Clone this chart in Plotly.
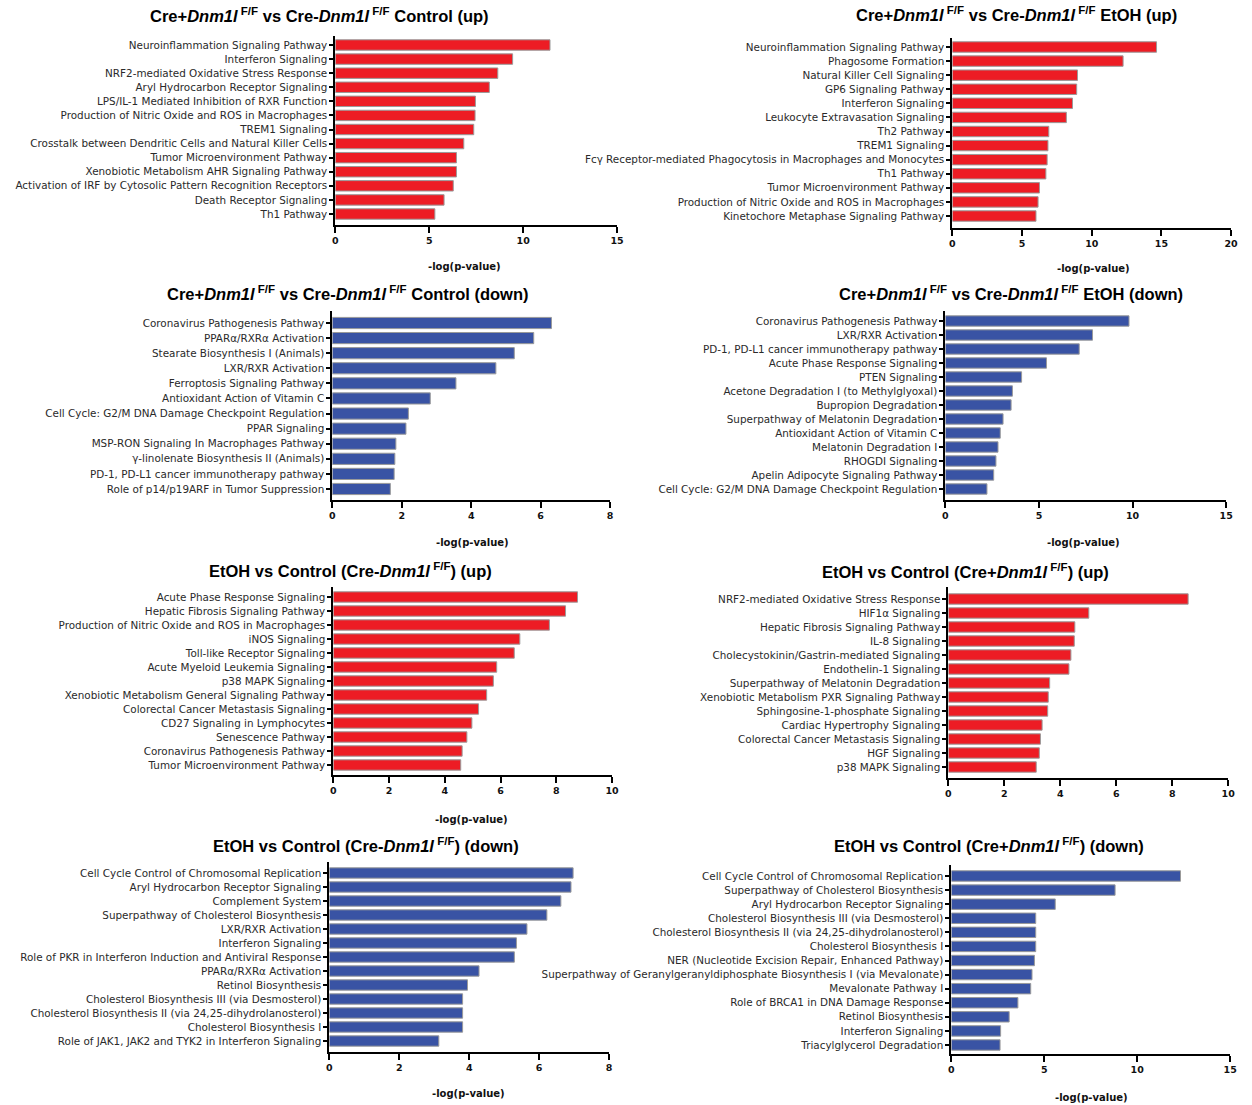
import plotly.graph_objects as go

# ---------------------------------------------------------------- data
p1_pathways = [
    "Neuroinflammation Signaling Pathway", "Interferon Signaling",
    "NRF2-mediated Oxidative Stress Response", "Aryl Hydrocarbon Receptor Signaling",
    "LPS/IL-1 Mediated Inhibition of RXR Function",
    "Production of Nitric Oxide and ROS in Macrophages", "TREM1 Signaling",
    "Crosstalk between Dendritic Cells and Natural Killer Cells",
    "Tumor Microenvironment Pathway", "Xenobiotic Metabolism AHR Signaling Pathway",
    "Activation of IRF by Cytosolic Pattern Recognition Receptors",
    "Death Receptor Signaling", "Th1 Pathway",
]
p1_values = [11.43, 9.44, 8.65, 8.2, 7.46, 7.44, 7.37, 6.84, 6.45, 6.45, 6.28, 5.79, 5.30]

p2_pathways = [
    "Neuroinflammation Signaling Pathway", "Phagosome Formation",
    "Natural Killer Cell Signaling", "GP6 Signaling Pathway", "Interferon Signaling",
    "Leukocyte Extravasation Signaling", "Th2 Pathway", "TREM1 Signaling",
    "Fcγ Receptor-mediated Phagocytosis in Macrophages and Monocytes", "Th1 Pathway",
    "Tumor Microenvironment Pathway", "Production of Nitric Oxide and ROS in Macrophages",
    "Kinetochore Metaphase Signaling Pathway",
]
p2_values = [14.65, 12.25, 8.98, 8.92, 8.62, 8.18, 6.92, 6.86, 6.8, 6.71, 6.25, 6.15, 6.0]

p3_pathways = [
    "Coronavirus Pathogenesis Pathway", "PPARα/RXRα Activation",
    "Stearate Biosynthesis I (Animals)", "LXR/RXR Activation",
    "Ferroptosis Signaling Pathway", "Antioxidant Action of Vitamin C",
    "Cell Cycle: G2/M DNA Damage Checkpoint Regulation", "PPAR Signaling",
    "MSP-RON Signaling In Macrophages Pathway", "γ-linolenate Biosynthesis II (Animals)",
    "PD-1, PD-L1 cancer immunotherapy pathway", "Role of p14/p19ARF in Tumor Suppression",
]
p3_values = [6.31, 5.80, 5.24, 4.71, 3.56, 2.82, 2.19, 2.12, 1.83, 1.80, 1.78, 1.67]

p4_pathways = [
    "Coronavirus Pathogenesis Pathway", "LXR/RXR Activation",
    "PD-1, PD-L1 cancer immunotherapy pathway", "Acute Phase Response Signaling",
    "PTEN Signaling", "Acetone Degradation I (to Methylglyoxal)",
    "Bupropion Degradation", "Superpathway of Melatonin Degradation",
    "Antioxidant Action of Vitamin C", "Melatonin Degradation I", "RHOGDI Signaling",
    "Apelin Adipocyte Signaling Pathway",
    "Cell Cycle: G2/M DNA Damage Checkpoint Regulation",
]
p4_values = [9.81, 7.86, 7.15, 5.40, 4.07, 3.58, 3.51, 3.08, 2.93, 2.81, 2.70, 2.58, 2.22]

p5_pathways = [
    "Acute Phase Response Signaling", "Hepatic Fibrosis Signaling Pathway",
    "Production of Nitric Oxide and ROS in Macrophages", "iNOS Signaling",
    "Toll-like Receptor Signaling", "Acute Myeloid Leukemia Signaling",
    "p38 MAPK Signaling", "Xenobiotic Metabolism General Signaling Pathway",
    "Colorectal Cancer Metastasis Signaling", "CD27 Signaling in Lymphocytes",
    "Senescence Pathway", "Coronavirus Pathogenesis Pathway",
    "Tumor Microenvironment Pathway",
]
p5_values = [8.76, 8.33, 7.75, 6.69, 6.49, 5.86, 5.74, 5.50, 5.21, 4.97, 4.79, 4.62, 4.57]

p6_pathways = [
    "NRF2-mediated Oxidative Stress Response", "HIF1α Signaling",
    "Hepatic Fibrosis Signaling Pathway", "IL-8 Signaling",
    "Cholecystokinin/Gastrin-mediated Signaling", "Endothelin-1 Signaling",
    "Superpathway of Melatonin Degradation", "Xenobiotic Metabolism PXR Signaling Pathway",
    "Sphingosine-1-phosphate Signaling", "Cardiac Hypertrophy Signaling",
    "Colorectal Cancer Metastasis Signaling", "HGF Signaling", "p38 MAPK Signaling",
]
p6_values = [8.57, 5.02, 4.52, 4.50, 4.38, 4.31, 3.62, 3.57, 3.55, 3.35, 3.29, 3.25, 3.14]

p7_pathways = [
    "Cell Cycle Control of Chromosomal Replication", "Aryl Hydrocarbon Receptor Signaling",
    "Complement System", "Superpathway of Cholesterol Biosynthesis",
    "LXR/RXR Activation", "Interferon Signaling",
    "Role of PKR in Interferon Induction and Antiviral Response",
    "PPARα/RXRα Activation", "Retinol Biosynthesis",
    "Cholesterol Biosynthesis III (via Desmosterol)",
    "Cholesterol Biosynthesis II (via 24,25-dihydrolanosterol)",
    "Cholesterol Biosynthesis I",
    "Role of JAK1, JAK2 and TYK2 in Interferon Signaling",
]
p7_values = [6.97, 6.91, 6.62, 6.22, 5.65, 5.35, 5.29, 4.28, 3.95, 3.81, 3.81, 3.81, 3.13]

p8_pathways = [
    "Cell Cycle Control of Chromosomal Replication", "Superpathway of Cholesterol Biosynthesis",
    "Aryl Hydrocarbon Receptor Signaling",
    "Cholesterol Biosynthesis III (via Desmosterol)",
    "Cholesterol Biosynthesis II (via 24,25-dihydrolanosterol)",
    "Cholesterol Biosynthesis I",
    "NER (Nucleotide Excision Repair, Enhanced Pathway)",
    "Superpathway of Geranylgeranyldiphosphate Biosynthesis I (via Mevalonate)",
    "Mevalonate Pathway I", "Role of BRCA1 in DNA Damage Response",
    "Retinol Biosynthesis", "Interferon Signaling", "Triacylglycerol Degradation",
]
p8_values = [12.33, 8.81, 5.59, 4.54, 4.54, 4.54, 4.47, 4.34, 4.27, 3.58, 3.11, 2.65, 2.62]

x_axis_max = [15, 20, 8, 15, 10, 10, 8, 15]
x_tick_step = [5, 5, 2, 5, 2, 2, 2, 5]

GENE = "<i>Dnm1l</i><sup> F/F</sup>"
panel_titles = [
    f"Cre+{GENE} vs Cre-{GENE} Control (up)",
    f"Cre+{GENE} vs Cre-{GENE} EtOH (up)",
    f"Cre+{GENE} vs Cre-{GENE} Control (down)",
    f"Cre+{GENE} vs Cre-{GENE} EtOH (down)",
    f"EtOH vs Control (Cre-{GENE}) (up)",
    f"EtOH vs Control (Cre+{GENE}) (up)",
    f"EtOH vs Control (Cre-{GENE}) (down)",
    f"EtOH vs Control (Cre+{GENE}) (down)",
]
x_title = "-log(p-value)"

# ---------------------------------------------------------------- layout
W, H = 1252, 1105
RED = "#ED1C24"
BLUE = "#3953A4"

# pixel frame of each panel: x of 0, x of max, top of y-axis, x-axis line,
# first / last bar centre, title centre, axis-title centre (None = not shown)
frames = [
    dict(x0=335, x1=619, top=36, axis=225, first=45, last=214, t=(319, 15), xt=(465, 266)),
    dict(x0=957, x1=1238, top=38, axis=228, first=47, last=216, t=(1022, 14), xt=(1099, 268)),
    dict(x0=332, x1=612, top=311, axis=500, first=323, last=489, t=(348, 293), xt=(473, 542)),
    dict(x0=950, x1=1233, top=311, axis=500, first=321, last=489, t=(1016, 293), xt=(1089, 542)),
    dict(x0=333, x1=614, top=587, axis=775, first=597, last=765, t=(350, 570), xt=(472, 819)),
    dict(x0=953, x1=1235, top=587, axis=778, first=599, last=767, t=(970, 571), xt=None),
    dict(x0=329, x1=611, top=862, axis=1052, first=873, last=1041, t=(366, 845), xt=(469, 1093)),
    dict(x0=956, x1=1237, top=865, axis=1054, first=876, last=1045, t=(994, 845), xt=(1097, 1097)),
]

pathways = [p1_pathways, p2_pathways, p3_pathways, p4_pathways,
            p5_pathways, p6_pathways, p7_pathways, p8_pathways]
values = [p1_values, p2_values, p3_values, p4_values,
          p5_values, p6_values, p7_values, p8_values]
colors = [RED, RED, BLUE, BLUE, RED, RED, BLUE, BLUE]

fig = go.Figure()
layout = {}
annotations = []

for i, (names, vals, col, fr) in enumerate(zip(pathways, values, colors, frames)):
    k = "" if i == 0 else str(i + 1)
    fig.add_trace(go.Bar(
        x=vals, y=names, orientation="h",
        marker=dict(color=col, line=dict(color="#9a9a9a", width=1)),
        width=0.74, xaxis="x" + k, yaxis="y" + k, showlegend=False,
    ))
    n = len(names)
    step = (fr["last"] - fr["first"]) / (n - 1)
    layout["xaxis" + k] = dict(
        domain=[fr["x0"] / W, fr["x1"] / W], anchor="y" + k,
        range=[0, x_axis_max[i]], dtick=x_tick_step[i], tick0=0,
        showline=True, linecolor="black", linewidth=2, showgrid=False, zeroline=False,
        ticks="outside", ticklen=6, tickwidth=2, tickcolor="black",
        tickfont=dict(family="DejaVu Sans", size=9.5, color="#111", weight="bold"),
        fixedrange=True,
    )
    layout["yaxis" + k] = dict(
        domain=[1 - fr["axis"] / H, 1 - fr["top"] / H], anchor="x" + k,
        type="category", categoryorder="array", categoryarray=names,
        range=[(fr["axis"] - fr["first"]) / step, (fr["top"] - fr["first"]) / step],
        showline=True, linecolor="black", linewidth=2, showgrid=False, zeroline=False,
        ticks="outside", ticklen=4, tickwidth=2, tickcolor="black",
        tickfont=dict(family="DejaVu Sans", size=10.4, color="#2a2a2a"),
        fixedrange=True,
    )
    tx, ty = fr["t"]
    annotations.append(dict(
        text="<b>" + panel_titles[i] + "</b>", x=tx / W, y=1 - ty / H,
        xref="paper", yref="paper", xanchor="center", yanchor="middle",
        showarrow=False,
        font=dict(family="Liberation Sans, Arial, sans-serif", size=16.5, color="black"),
    ))
    if fr["xt"] is not None:
        ax, ay = fr["xt"]
        annotations.append(dict(
            text="<b>" + x_title + "</b>", x=ax / W, y=1 - ay / H,
            xref="paper", yref="paper", xanchor="center", yanchor="middle",
            showarrow=False,
            font=dict(family="DejaVu Sans", size=10, color="#111"),
        ))

fig.update_layout(
    width=W, height=H,
    margin=dict(l=0, r=0, t=0, b=0),
    paper_bgcolor="white", plot_bgcolor="white",
    annotations=annotations,
    bargap=0.26,
    **layout,
)

fig.write_html("out.html")
